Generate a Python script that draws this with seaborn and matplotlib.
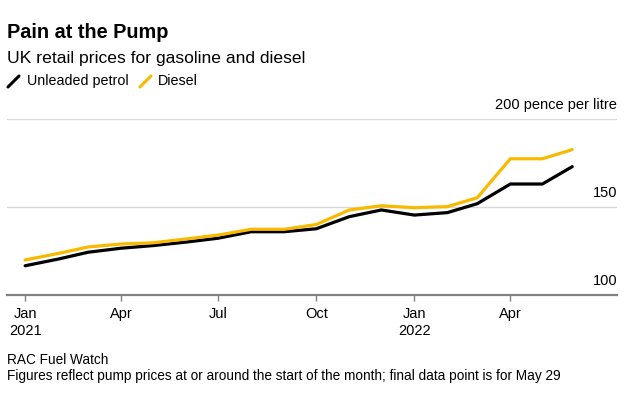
import pandas as pd
import matplotlib.pyplot as plt
import matplotlib.transforms as mtransforms
from matplotlib.lines import Line2D
import seaborn as sns

# data (pence per litre)
dates = ["2021-01-01", "2021-02-01", "2021-03-01", "2021-04-01", "2021-05-01",
         "2021-06-01", "2021-07-01", "2021-08-01", "2021-09-01", "2021-10-01",
         "2021-11-01", "2021-12-01", "2022-01-01", "2022-02-01", "2022-03-01",
         "2022-04-01", "2022-05-01", "2022-05-29"]
unleaded = [116.5, 120.3, 124.2, 126.5, 128.0, 130.0, 132.2, 135.9, 135.9,
            137.6, 144.5, 148.3, 145.4, 146.8, 151.9, 163.1, 163.1, 173.0]
diesel = [119.8, 123.5, 127.2, 128.9, 129.6, 131.8, 134.0, 137.3, 137.3,
          140.0, 148.3, 150.7, 149.6, 150.2, 155.3, 177.5, 177.5, 182.7]
series_names = ["Unleaded petrol", "Diesel"]
colors = ["#000000", "#f8b900"]
tick_dates = ["2021-01-01", "2021-04-01", "2021-07-01", "2021-10-01", "2022-01-01", "2022-04-01"]
tick_labels = ["Jan\n2021", "Apr", "Jul", "Oct", "Jan\n2022", "Apr"]
y_ticks = [100, 150, 200]
y_labels = ["100", "150", "200 pence per litre"]

df = pd.DataFrame({
    "date": pd.to_datetime(dates * 2),
    "price": unleaded + diesel,
    "fuel": [series_names[0]] * len(dates) + [series_names[1]] * len(dates),
})

sns.set_style("white")
plt.rcParams["font.family"] = ["Liberation Sans", "DejaVu Sans"]
plt.rcParams["text.color"] = "#000000"
plt.rcParams["xtick.labelcolor"] = "#000000"

fig = plt.figure(figsize=(6.4, 3.96), dpi=100)
ax = fig.add_axes([7 / 640, 1 - 294.7 / 396, 610 / 640, 175.4 / 396])

sns.lineplot(data=df, x="date", y="price", hue="fuel", hue_order=series_names,
             palette=colors, linewidth=2.3, legend=False, ax=ax)

ax.set_xlim(pd.Timestamp("2020-12-15"), pd.Timestamp("2022-07-10"))
ax.set_ylim(100, 200)
ax.set_xlabel("")
ax.set_ylabel("")

# gridlines + y labels sitting above them on the right
for yv, lab in zip(y_ticks, y_labels):
    if yv > 100:
        ax.axhline(yv, color="#d9d9d9", linewidth=1, zorder=0)
    trans = mtransforms.offset_copy(
        mtransforms.blended_transform_factory(ax.transAxes, ax.transData),
        fig=fig, x=0, y=5, units="points")
    ax.text(1.0, yv, lab, transform=trans, ha="right", va="bottom",
            fontsize=10.5, color="#000000")
ax.set_yticks([])

ax.set_xticks(pd.to_datetime(tick_dates))
ax.set_xticklabels(tick_labels, fontsize=10.5, linespacing=1.25, color="#000000")
ax.tick_params(axis="x", direction="out", length=4, width=1,
               color="#808080", pad=5, bottom=True)

for s in ["top", "right", "left"]:
    ax.spines[s].set_visible(False)
ax.spines["bottom"].set_color("#808080")
ax.spines["bottom"].set_linewidth(1.6)

# titles
fig.text(7 / 640, 1 - 32 / 396, "Pain at the Pump", fontsize=14.3, fontweight="bold",
         va="center", ha="left")
fig.text(7 / 640, 1 - 58 / 396, "UK retail prices for gasoline and diesel",
         fontsize=12.6, va="center", ha="left")

# legend with diagonal swatches
legend_x = [8, 140]
text_x = [27, 158]
for lx, tx, name, c in zip(legend_x, text_x, series_names, colors):
    fig.add_artist(Line2D([lx / 640, (lx + 11) / 640], [1 - 87 / 396, 1 - 76 / 396],
                          color=c, linewidth=2.2, transform=fig.transFigure))
    fig.text(tx / 640, 1 - 81 / 396, name, fontsize=10.3, va="center", ha="left")

# footer
fig.text(7 / 640, 1 - 360 / 396, "RAC Fuel Watch", fontsize=9.8, va="center", ha="left")
fig.text(7 / 640, 1 - 376 / 396,
         "Figures reflect pump prices at or around the start of the month; final data point is for May 29",
         fontsize=9.8, va="center", ha="left")

fig.savefig("out.png", dpi=100, facecolor="white")
